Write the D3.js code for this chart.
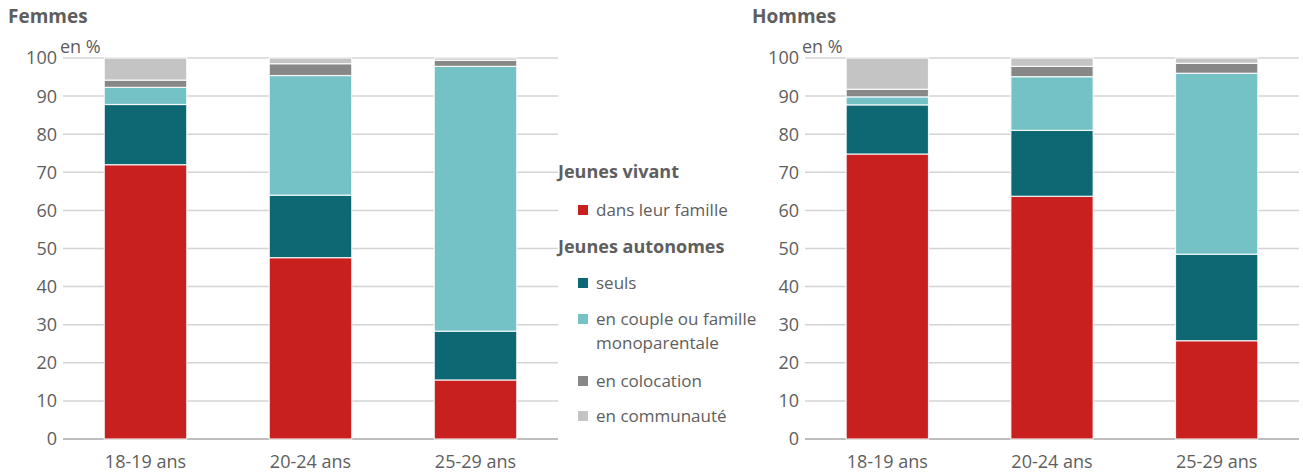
<!DOCTYPE html>
<html>
<head>
<meta charset="utf-8">
<script src="https://cdn.jsdelivr.net/npm/d3@7"></script>
<style>
  body { margin: 0; background: #fff; }
  svg { display: block; font-family: 'Open Sans', sans-serif; }
</style>
</head>
<body>
<svg id="chart"></svg>
<script>
const width = 1303, height = 476;

// age groups
const ages = ['18-19 ans', '20-24 ans', '25-29 ans'];
const yTicks = [0, 10, 20, 30, 40, 50, 60, 70, 80, 90, 100];

// series keys (stack order bottom -> top)
const keys = ['famille', 'seuls', 'couple', 'coloc', 'communaute'];
const colors = ['#c8201f', '#0e6874', '#74c2c6', '#878787', '#c4c4c4'];

// Femmes, en %
const femmesFamille    = [72.0, 47.6, 15.5];
const femmesSeuls      = [15.8, 16.4, 12.8];
const femmesCouple     = [4.5, 31.4, 69.5];
const femmesColoc      = [1.9, 3.1, 1.6];
const femmesCommunaute = [5.8, 1.5, 0.6];

// Hommes, en %
const hommesFamille    = [74.8, 63.7, 25.8];
const hommesSeuls      = [12.9, 17.3, 22.7];
const hommesCouple     = [2.1, 14.1, 47.5];
const hommesColoc      = [2.0, 2.7, 2.6];
const hommesCommunaute = [8.2, 2.2, 1.4];

const toRows = (a, b, c, d, e) => ages.map((age, i) => ({
  age, famille: a[i], seuls: b[i], couple: c[i], coloc: d[i], communaute: e[i]
}));

const femmes = toRows(femmesFamille, femmesSeuls, femmesCouple, femmesColoc, femmesCommunaute);
const hommes = toRows(hommesFamille, hommesSeuls, hommesCouple, hommesColoc, hommesCommunaute);

const textColor = '#5e5e5e';
const svg = d3.select('#chart').attr('width', width).attr('height', height);

const y = d3.scaleLinear().domain([0, 100]).range([439, 58]);
const color = d3.scaleOrdinal().domain(keys).range(colors);
const stack = d3.stack().keys(keys);

function drawPanel(data, title, x0, x1, titleX) {
  const g = svg.append('g');
  const x = d3.scaleBand().domain(ages).range([x0, x1]).paddingInner(0.5).paddingOuter(0.25);

  g.append('text')
    .attr('x', titleX).attr('y', 23)
    .style('font-size', '19px').style('font-weight', 'bold')
    .style('fill', textColor)
    .text(title);

  // grid
  g.selectAll('.grid').data(yTicks).enter().append('line')
    .attr('x1', x0).attr('x2', x1)
    .attr('y1', d => y(d)).attr('y2', d => y(d))
    .attr('stroke', d => d === 0 ? '#bdbdbd' : '#d4d4d4')
    .attr('stroke-width', d => d === 0 ? 2 : 1.5);

  // y labels
  g.selectAll('.ylab').data(yTicks).enter().append('text')
    .attr('x', x0 - 6).attr('y', d => y(d)).attr('dy', '0.36em')
    .attr('text-anchor', 'end')
    .style('font-size', '18px').style('fill', textColor)
    .text(d => d);

  g.append('text')
    .attr('x', x0 - 3).attr('y', 53)
    .style('font-size', '18px').style('fill', textColor)
    .text('en %');

  // bars
  const series = stack(data);
  g.selectAll('.serie').data(series).enter().append('g')
    .attr('fill', d => color(d.key))
    .selectAll('rect').data(d => d).enter().append('rect')
    .attr('x', d => x(d.data.age))
    .attr('width', x.bandwidth())
    .attr('y', d => y(d[1]))
    .attr('height', d => y(d[0]) - y(d[1]))
    .attr('stroke', '#ffffff')
    .attr('stroke-opacity', 0.85)
    .attr('stroke-width', 1.2);

  // x labels
  g.selectAll('.xlab').data(ages).enter().append('text')
    .attr('x', d => x(d) + x.bandwidth() / 2).attr('y', 468)
    .attr('text-anchor', 'middle')
    .style('font-size', '18px').style('fill', textColor)
    .text(d => d);
}

drawPanel(femmes, 'Femmes', 63, 558, 8);
drawPanel(hommes, 'Hommes', 805, 1299, 752);

// legend
const legend = svg.append('g');
legend.append('rect').attr('x', 558).attr('y', 150).attr('width', 215).attr('height', 285).attr('fill', '#fff');

const legendHeads = [
  { text: 'Jeunes vivant', y: 178 },
  { text: 'Jeunes autonomes', y: 253 }
];
legend.selectAll('.head').data(legendHeads).enter().append('text')
  .attr('x', 558).attr('y', d => d.y)
  .style('font-size', '18px').style('font-weight', 'bold').style('fill', textColor)
  .text(d => d.text);

const legendItems = [
  { key: 'famille', lines: ['dans leur famille'], y: 210 },
  { key: 'seuls', lines: ['seuls'], y: 283 },
  { key: 'couple', lines: ['en couple ou famille', 'monoparentale'], y: 319 },
  { key: 'coloc', lines: ['en colocation'], y: 381 },
  { key: 'communaute', lines: ['en communauté'], y: 416 }
];
const li = legend.selectAll('.item').data(legendItems).enter().append('g');
li.append('rect')
  .attr('x', 578).attr('y', d => d.y - 5).attr('width', 10).attr('height', 10)
  .attr('fill', d => color(d.key));
li.each(function(d) {
  d3.select(this).selectAll('text').data(d.lines).enter().append('text')
    .attr('x', 596).attr('y', (t, i) => d.y + i * 24).attr('dy', '0.36em')
    .style('font-size', '17px').style('fill', textColor)
    .text(t => t);
});
</script>
</body>
</html>
